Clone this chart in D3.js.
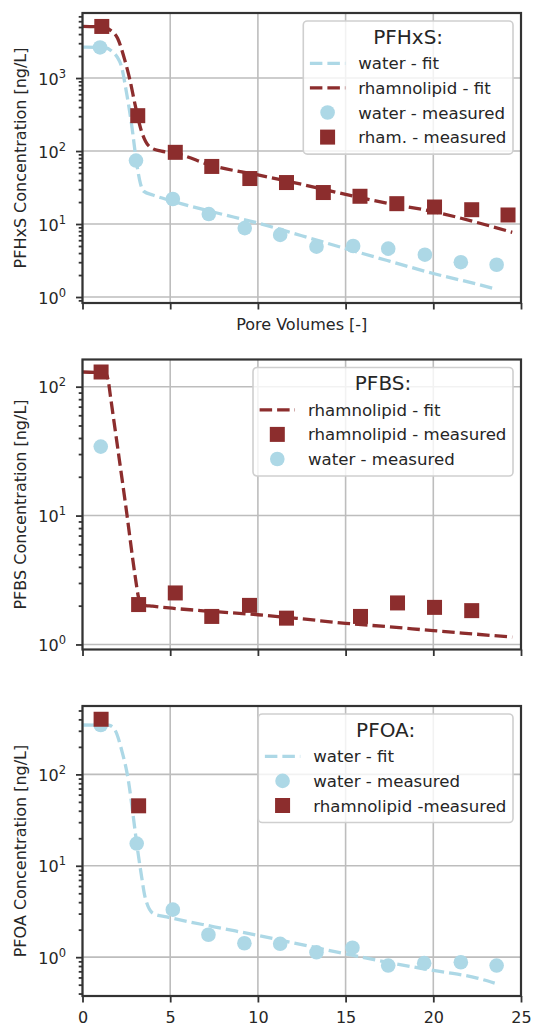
<!DOCTYPE html>
<html>
<head>
<meta charset="utf-8">
<script src="https://cdn.jsdelivr.net/npm/d3@7"></script>
<style>
  body { margin: 0; background: #fff; }
  svg { display: block; }
  text { font-family: "DejaVu Sans", sans-serif; fill: #262626; }
</style>
</head>
<body>
<div id="chart"></div>
<script>
// ---- data ----
const xTicks = [0, 5, 10, 15, 20, 25];

// pore volumes of the sampling points
const pvWater = [1.0, 3.05, 5.15, 7.2, 9.25, 11.27, 13.34, 15.43, 17.43, 19.52, 21.57, 23.61];
const pvRham  = [1.1, 3.15, 5.29, 7.37, 9.54, 11.63, 13.73, 15.82, 17.92, 20.07, 22.19, 24.26];

// PFHxS
const pfhxsWater = [2625, 74, 22, 13.7, 8.8, 7.1, 4.9, 5.0, 4.6, 3.8, 3.0, 2.77];
const pfhxsRham  = [5090, 305, 96, 61.5, 42, 37, 27, 24, 19, 17.1, 15.7, 13.3];
const pfhxsWaterFitX = [0, 1.3, 1.7, 2.0, 2.2, 2.5, 2.8, 3.1, 3.3, 3.5, 4.0, 5.0, 7.5, 10, 12.5, 15, 17.5, 20, 22.5, 23.5];
const pfhxsWaterFitY = [2650, 2600, 2300, 1900, 1500, 650, 230, 65, 36, 28, 25, 21, 14.5, 10.3, 6.9, 4.6, 3.1, 2.1, 1.5, 1.3];
const pfhxsRhamFitX = [0, 1.2, 1.6, 2.0, 2.4, 2.7, 3.0, 3.3, 3.6, 4.0, 4.5, 5.3, 7.4, 10, 12.5, 15, 17.5, 20, 22.5, 24.5];
const pfhxsRhamFitY = [5100, 5000, 4500, 3500, 1800, 950, 430, 210, 135, 108, 100, 93, 63, 47, 35, 25.5, 19, 14.8, 10.5, 7.7];
const pfhxsLim = [0.828, 7780];

// PFBS
const pfbsRhamX = [1.06, 3.2, 5.29, 7.37, 9.52, 11.63, 15.85, 17.96, 20.07, 22.19];
const pfbsRham  = [130, 2.04, 2.51, 1.65, 2.01, 1.60, 1.65, 2.10, 1.94, 1.83];
const pfbsWaterX = [1.04];
const pfbsWater  = [34.3];
const pfbsRhamFitX = [0, 1.3, 1.47, 1.6, 2.0, 2.5, 3.0, 3.2, 3.4, 4.0, 5.3, 7.5, 10, 12.5, 15, 17.5, 20, 22.5, 24.5];
const pfbsRhamFitY = [130, 128, 111, 83, 34, 11, 3.4, 2.3, 2.03, 1.98, 1.9, 1.8, 1.7, 1.58, 1.46, 1.37, 1.28, 1.2, 1.14];
const pfbsLim = [0.914, 162.5];

// PFOA
const pfoaWaterX = [1.04, 3.09, 5.15, 7.18, 9.23, 11.27, 13.34, 15.39, 17.43, 19.48, 21.57, 23.61];
const pfoaWater  = [347, 17.5, 3.31, 1.76, 1.42, 1.40, 1.13, 1.27, 0.81, 0.86, 0.88, 0.81];
const pfoaRhamX = [1.06, 3.2];
const pfoaRham  = [401, 45.3];
const pfoaWaterFitX = [0, 1.5, 1.85, 2.23, 2.61, 2.9, 3.09, 3.37, 3.56, 4.04, 4.8, 7.5, 10, 12.5, 15, 17.5, 20, 22.5, 23.5];
const pfoaWaterFitY = [347, 345, 306, 185, 87, 34, 17.6, 7.6, 4.6, 3.0, 2.76, 2.15, 1.73, 1.37, 1.09, 0.87, 0.715, 0.59, 0.52];
const pfoaLim = [0.376, 560];

// ---- layout ----
const W = 534, H = 1025;
const left = 82.5, right = 521;
const panelTops = [13, 359.5, 706];
const panelH = 290;
const blue = "#add8e6", red = "#8c2d2d";
const zip = (a, b) => a.map((v, i) => [v, b[i]]);

const panels = [
  {
    title: "PFHxS:", ylabel: "PFHxS Concentration [ng/L]", ylim: pfhxsLim, xlabel: "Pore Volumes [-]", tickLabels: false,
    fits: [{pts: zip(pfhxsWaterFitX, pfhxsWaterFitY), color: blue}, {pts: zip(pfhxsRhamFitX, pfhxsRhamFitY), color: red}],
    circles: zip(pvWater, pfhxsWater), squares: zip(pvRham, pfhxsRham),
    legend: [["line", blue, "water - fit"], ["line", red, "rhamnolipid - fit"], ["circle", blue, "water - measured"], ["square", red, "rham. - measured"]]
  },
  {
    title: "PFBS:", ylabel: "PFBS Concentration [ng/L]", ylim: pfbsLim, xlabel: null, tickLabels: false,
    fits: [{pts: zip(pfbsRhamFitX, pfbsRhamFitY), color: red}],
    circles: zip(pfbsWaterX, pfbsWater), squares: zip(pfbsRhamX, pfbsRham),
    legend: [["line", red, "rhamnolipid - fit"], ["square", red, "rhamnolipid - measured"], ["circle", blue, "water - measured"]]
  },
  {
    title: "PFOA:", ylabel: "PFOA Concentration [ng/L]", ylim: pfoaLim, xlabel: null, tickLabels: true,
    fits: [{pts: zip(pfoaWaterFitX, pfoaWaterFitY), color: blue}],
    circles: zip(pfoaWaterX, pfoaWater), squares: zip(pfoaRhamX, pfoaRham),
    legend: [["line", blue, "water - fit"], ["circle", blue, "water - measured"], ["square", red, "rhamnolipid -measured"]]
  }
];

const svg = d3.select("#chart").append("svg")
    .attr("width", W)
    .attr("height", H);

const x = d3.scaleLinear().domain([0, 25]).range([left, right]);

panels.forEach((p, i) => {
  const top = panelTops[i], bottom = top + panelH;
  const y = d3.scaleLog().domain(p.ylim).range([bottom, top]);
  const g = svg.append("g");

  // decades and minor ticks inside the limits
  const lo = Math.floor(Math.log10(p.ylim[0])), hi = Math.ceil(Math.log10(p.ylim[1]));
  const majors = [], minors = [];
  for (let d = lo; d <= hi; d++) {
    const base = Math.pow(10, d);
    if (base >= p.ylim[0] && base <= p.ylim[1]) majors.push(base);
    for (let k = 2; k <= 9; k++) {
      const v = k * base;
      if (v >= p.ylim[0] && v <= p.ylim[1]) minors.push(v);
    }
  }

  // grid
  g.append("g").selectAll("line").data(xTicks).join("line")
      .attr("x1", d => x(d)).attr("x2", d => x(d))
      .attr("y1", top).attr("y2", bottom)
      .attr("stroke", "#bdbdbd").attr("stroke-width", 1.6);
  g.append("g").selectAll("line").data(majors).join("line")
      .attr("x1", left).attr("x2", right)
      .attr("y1", d => y(d)).attr("y2", d => y(d))
      .attr("stroke", "#bdbdbd").attr("stroke-width", 1.6);

  // fit lines
  const line = d3.line().x(d => x(d[0])).y(d => y(d[1])).curve(d3.curveMonotoneX);
  p.fits.forEach(f => {
    g.append("path")
        .attr("d", line(f.pts))
        .attr("fill", "none")
        .attr("stroke", f.color)
        .attr("stroke-width", 3.3)
        .attr("stroke-dasharray", "12.5,5");
  });

  // measured points
  g.append("g").selectAll("circle").data(p.circles).join("circle")
      .attr("cx", d => x(d[0])).attr("cy", d => y(d[1]))
      .attr("r", 7.3).attr("fill", blue);
  g.append("g").selectAll("rect").data(p.squares).join("rect")
      .attr("x", d => x(d[0]) - 7.5).attr("y", d => y(d[1]) - 7.5)
      .attr("width", 15).attr("height", 15).attr("fill", red);

  // legend
  const fs = 16.6, pad = 6.6, handleLen = 35.4, textPad = 13;
  const leg = g.append("g");
  const box = leg.append("rect");
  const title = leg.append("text").text(p.title).attr("font-size", 20).attr("text-anchor", "middle");
  const labels = p.legend.map(e => leg.append("text").text(e[2]).attr("font-size", fs));
  const maxW = d3.max(labels, t => t.node().getComputedTextLength());
  const legW = Math.max(pad + handleLen + textPad + maxW + pad, title.node().getComputedTextLength() + 2 * pad);
  const legTop = top + 8, legLeft = right - 8 - legW;
  const legH = 42.3 + 24.6 * (p.legend.length - 1) + 17;
  box.attr("x", legLeft).attr("y", legTop).attr("width", legW).attr("height", legH)
      .attr("rx", 4).attr("fill", "#fff").attr("fill-opacity", 0.8)
      .attr("stroke", "#cfcfcf").attr("stroke-width", 1.6);
  title.attr("x", legLeft + legW / 2).attr("y", legTop + 22.5);
  p.legend.forEach((e, k) => {
    const cy = legTop + 42.3 + 24.6 * k;
    const hx = legLeft + pad;
    if (e[0] === "line") {
      leg.append("line").attr("x1", hx).attr("x2", hx + handleLen).attr("y1", cy).attr("y2", cy)
          .attr("stroke", e[1]).attr("stroke-width", 3.3).attr("stroke-dasharray", "12.5,5");
    } else if (e[0] === "circle") {
      leg.append("circle").attr("cx", hx + handleLen / 2).attr("cy", cy).attr("r", 7.3).attr("fill", e[1]);
    } else {
      leg.append("rect").attr("x", hx + handleLen / 2 - 7.5).attr("y", cy - 7.5)
          .attr("width", 15).attr("height", 15).attr("fill", e[1]);
    }
    labels[k].attr("x", hx + handleLen + textPad).attr("y", cy + 6);
  });

  // spines
  g.append("rect")
      .attr("x", left).attr("y", top).attr("width", right - left).attr("height", panelH)
      .attr("fill", "none").attr("stroke", "#333").attr("stroke-width", 2.2);

  // y axis: decades with superscript labels, plus minor ticks
  const yAxis = g.append("g").attr("transform", `translate(${left},0)`)
      .call(d3.axisLeft(y).tickValues(majors).tickSize(6.5).tickPadding(10).tickFormat(() => ""));
  yAxis.selectAll(".tick text").each(function(d) {
    const t = d3.select(this).attr("dy", "0.38em").attr("font-size", 16).attr("fill", "#262626");
    t.text("10");
    t.append("tspan").attr("dy", -7).attr("font-size", 11.5).text(Math.round(Math.log10(d)));
  });
  g.append("g").attr("transform", `translate(${left},0)`)
      .call(d3.axisLeft(y).tickValues(minors).tickSize(3.8).tickFormat(() => ""));

  // x axis
  const xAxis = g.append("g").attr("transform", `translate(0,${bottom})`)
      .call(d3.axisBottom(x).tickValues(xTicks).tickSize(6.5).tickPadding(8.8)
        .tickFormat(p.tickLabels ? d3.format("d") : () => ""));
  xAxis.selectAll(".tick text").attr("font-size", 16).attr("fill", "#262626");

  g.selectAll(".domain").remove();
  g.selectAll(".tick line").attr("stroke", "#333").attr("stroke-width", 1.8);
  g.selectAll(".tick text").attr("font-family", "DejaVu Sans");

  // axis labels
  g.append("text")
      .attr("transform", `translate(26,${(top + bottom) / 2}) rotate(-90)`)
      .attr("text-anchor", "middle").attr("font-size", 16)
      .text(p.ylabel);
  if (p.xlabel) {
    g.append("text")
        .attr("x", (left + right) / 2).attr("y", bottom + 27)
        .attr("text-anchor", "middle").attr("font-size", 16)
        .text(p.xlabel);
  }
});
</script>
</body>
</html>
